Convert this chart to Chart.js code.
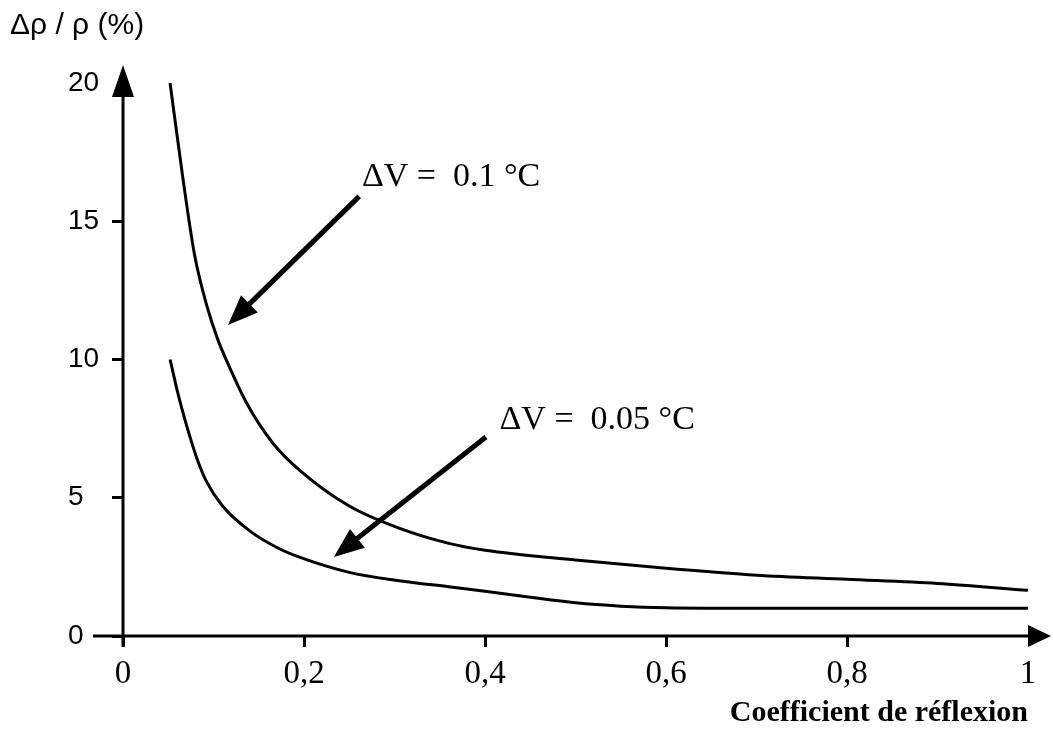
<!DOCTYPE html>
<html>
<head>
<meta charset="utf-8">
<script src="https://cdn.jsdelivr.net/npm/chart.js@4"></script>
<style>
  html, body { margin: 0; padding: 0; background: #fff; }
  #wrap { width: 1053px; height: 736px; }
</style>
</head>
<body>
<div id="wrap"><canvas id="reflChart"></canvas></div>
<script>
// axes
const xTicks = [0, 0.2, 0.4, 0.6, 0.8, 1];
const xTickLabels = ["0", "0,2", "0,4", "0,6", "0,8", "1"];
const yTicks = [0, 5, 10, 15, 20];
const yTickLabels = ["0", "5", "10", "15", "20"];
const xTitle = "Coefficient de réflexion";
const yTitle = "Δρ / ρ (%)";

// ΔV = 0.1 °C
const refl01 = [0.052, 0.066, 0.079, 0.093, 0.105, 0.118, 0.137, 0.165, 0.195, 0.25, 0.305, 0.36, 0.4, 0.5, 0.6, 0.7, 0.8, 0.9, 1.0];
const rho01  = [20, 16.6, 13.8, 11.9, 10.7, 9.7, 8.4, 7.0, 6.0, 4.7, 3.9, 3.35, 3.1, 2.75, 2.45, 2.2, 2.05, 1.9, 1.65];

// ΔV = 0.05 °C
const refl005 = [0.052, 0.062, 0.074, 0.083, 0.092, 0.11, 0.14, 0.17, 0.195, 0.25, 0.305, 0.36, 0.4, 0.45, 0.5, 0.55, 0.6, 0.7, 0.8, 0.9, 1.0];
const rho005  = [10.0, 8.6, 7.2, 6.3, 5.6, 4.7, 3.8, 3.2, 2.85, 2.3, 2.0, 1.78, 1.62, 1.4, 1.2, 1.08, 1.02, 1.0, 1.0, 1.0, 1.0];

const seriesLabels = ["ΔV =  0.1 °C", "ΔV =  0.05 °C"];
// label anchor and arrow tail/tip, in data units (x = reflexion, y = %)
const labelAt = [[0.264, 16.6], [0.416, 7.8]];
const arrowFrom = [[0.261, 15.9], [0.401, 7.2]];
const arrowTo = [[0.116, 11.25], [0.233, 2.86]];

const toPoints = (xs, ys) => xs.map((x, i) => ({ x: x, y: ys[i] }));

function arrow(ctx, x1, y1, x2, y2, len, half, width) {
  const a = Math.atan2(y2 - y1, x2 - x1);
  const bx = x2 - Math.cos(a) * len, by = y2 - Math.sin(a) * len;
  ctx.lineWidth = width;
  ctx.beginPath();
  ctx.moveTo(x1, y1);
  ctx.lineTo(bx + Math.cos(a) * 2, by + Math.sin(a) * 2);
  ctx.stroke();
  ctx.beginPath();
  ctx.moveTo(x2, y2);
  ctx.lineTo(bx - Math.sin(a) * half, by + Math.cos(a) * half);
  ctx.lineTo(bx + Math.sin(a) * half, by - Math.cos(a) * half);
  ctx.closePath();
  ctx.fill();
}

const drawing = {
  id: "drawing",
  afterDraw(chart) {
    const ctx = chart.ctx;
    const xs = chart.scales.x, ys = chart.scales.y;
    const x0 = xs.getPixelForValue(0), x1 = xs.getPixelForValue(1);
    const y0 = ys.getPixelForValue(0), y20 = ys.getPixelForValue(20);
    ctx.save();
    ctx.strokeStyle = "#000";
    ctx.fillStyle = "#000";
    ctx.lineCap = "butt";
    // axes with arrowheads
    arrow(ctx, x0, y0 + 11, x0, y20 - 18, 32, 11, 3);
    arrow(ctx, x0 - 30, y0, x1 + 23, y0, 23, 11, 3);

    // y title
    ctx.font = "30px 'Liberation Sans'";
    ctx.textAlign = "left";
    ctx.textBaseline = "middle";
    ctx.fillText(yTitle, 10, 26);

    // annotations
    ctx.font = "34px 'Liberation Serif'";
    for (let i = 0; i < seriesLabels.length; i++) {
      ctx.fillText(seriesLabels[i], xs.getPixelForValue(labelAt[i][0]), ys.getPixelForValue(labelAt[i][1]));
      arrow(ctx,
        xs.getPixelForValue(arrowFrom[i][0]), ys.getPixelForValue(arrowFrom[i][1]),
        xs.getPixelForValue(arrowTo[i][0]), ys.getPixelForValue(arrowTo[i][1]),
        30, 12, 5);
    }
    ctx.restore();
  }
};

new Chart(document.getElementById("reflChart"), {
  type: "scatter",
  data: {
    datasets: [
      { label: seriesLabels[0], data: toPoints(refl01, rho01) },
      { label: seriesLabels[1], data: toPoints(refl005, rho005) }
    ]
  },
  options: {
    responsive: true,
    maintainAspectRatio: false,
    animation: false,
    layout: { padding: { top: 83, right: 25, left: 68, bottom: 0 } },
    elements: {
      point: { radius: 0, hoverRadius: 0 },
      line: { borderColor: "#000", borderWidth: 3, cubicInterpolationMode: "monotone", fill: false }
    },
    datasets: { scatter: { showLine: true } },
    plugins: {
      legend: { display: false },
      tooltip: { enabled: false }
    },
    scales: {
      x: {
        type: "linear",
        min: 0,
        max: 1,
        afterBuildTicks: s => { s.ticks = xTicks.map(v => ({ value: v })); },
        afterFit: s => { s.height = 100; },
        grid: {
          drawOnChartArea: false,
          tickLength: 11,
          lineWidth: 3,
          color: c => (c.tick && c.tick.value === 1) ? "rgba(0,0,0,0)" : "#000"
        },
        border: { display: false },
        ticks: {
          autoSkip: false,
          maxRotation: 0,
          padding: 8,
          color: "#000",
          font: { family: "'Liberation Serif'", size: 33 },
          callback: (v, i) => xTickLabels[i]
        },
        title: {
          display: true,
          text: xTitle,
          align: "end",
          color: "#000",
          padding: { top: 0, bottom: 5 },
          font: { family: "'Liberation Serif'", size: 30, weight: "bold" }
        }
      },
      y: {
        type: "linear",
        min: 0,
        max: 20,
        afterBuildTicks: s => { s.ticks = yTicks.map(v => ({ value: v })); },
        afterFit: s => { s.width = 55; },
        grid: {
          drawOnChartArea: false,
          tickLength: 11,
          lineWidth: 3,
          color: c => (c.tick && c.tick.value === 20) ? "rgba(0,0,0,0)" : "#000"
        },
        border: { display: false },
        ticks: {
          crossAlign: "far",
          padding: 12,
          color: "#000",
          font: { family: "'Liberation Sans'", size: 28 },
          callback: (v, i) => yTickLabels[i]
        }
      }
    }
  },
  plugins: [drawing]
});
</script>
</body>
</html>
